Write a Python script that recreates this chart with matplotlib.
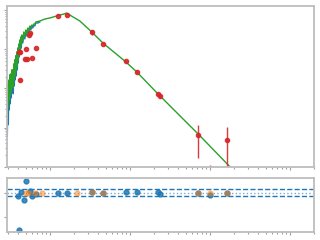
import matplotlib
matplotlib.use("Agg")
import matplotlib.pyplot as plt
import numpy as np

# Observed spectrum (blue)
spec_wl = [0.2943, 0.2985, 0.3028, 0.3072, 0.3117, 0.3162, 0.3208, 0.3255, 0.3302, 0.3350,
           0.3398, 0.3447, 0.3497, 0.3548, 0.3600, 0.3652, 0.3705, 0.3758, 0.3813, 0.3868,
           0.3924, 0.3981, 0.4039, 0.4097, 0.4157, 0.4217, 0.4278, 0.4340, 0.4403, 0.4467,
           0.4597, 0.4732, 0.4870, 0.5012, 0.5158, 0.5309, 0.5464, 0.5623, 0.5788, 0.5957,
           0.6131, 0.6310, 0.6494, 0.668, 0.708, 0.750]
spec_fl = [0.000587, 0.00513, 0.00119, 0.00921, 0.00285, 0.0166, 0.00406, 0.0186, 0.00577, 0.0265,
           0.00819, 0.0235, 0.00729, 0.0376, 0.0116, 0.0534, 0.0166, 0.0675, 0.0209, 0.0759,
           0.0297, 0.0960, 0.0448, 0.1213, 0.0637, 0.1534, 0.0805, 0.1939, 0.1079, 0.2181,
           0.1446, 0.2600, 0.1829, 0.2921, 0.2181, 0.3284, 0.2600, 0.3692, 0.3097, 0.3915,
           0.3483, 0.4151, 0.3915, 0.4669, 0.4669, 0.4951]

# Model spectrum (green)
model_wl = [0.2943, 0.2985, 0.3028, 0.3072, 0.3117, 0.3162, 0.3208, 0.3255, 0.3302, 0.3350,
            0.3398, 0.3447, 0.3497, 0.3548, 0.3600, 0.3652, 0.3705, 0.3758, 0.3813, 0.3868,
            0.3924, 0.3981, 0.4039, 0.4097, 0.4157, 0.4217, 0.4278, 0.4340, 0.4403, 0.4467,
            0.4597, 0.4732, 0.4870, 0.5012, 0.5158, 0.5309, 0.5464, 0.5623, 0.5788, 0.5957,
            0.6131, 0.6310, 0.6494, 0.668, 0.750, 0.866, 1.0, 1.155, 1.334, 1.496, 1.631,
            1.778, 2.054, 2.371, 3.35, 4.60, 8.91, 12.2, 22.4, 70.8, 177.8, 316.0]
model_fl = [0.00159, 0.0131, 0.00321, 0.0164, 0.00513, 0.0223, 0.00648, 0.0235, 0.00819, 0.0297,
            0.01164, 0.0297, 0.01036, 0.0423, 0.0166, 0.0534, 0.0209, 0.0675, 0.0297, 0.0854,
            0.0376, 0.1079, 0.0534, 0.1364, 0.0759, 0.1725, 0.0960, 0.2056, 0.1286, 0.2311,
            0.1626, 0.2755, 0.2056, 0.3097, 0.2451, 0.3483, 0.2921, 0.3915, 0.3483, 0.4151,
            0.3915, 0.4402, 0.4402, 0.4951, 0.525, 0.590, 0.626, 0.684, 0.746, 0.791, 0.839,
            0.746, 0.626, 0.525, 0.275, 0.1446, 0.0475, 0.0264, 0.0073, 0.00070, 0.000101, 0.000032]

# Photometry (red)
phot_wl = [0.418, 0.410, 0.4254, 0.487, 0.516, 0.497, 0.546, 0.562, 0.601, 0.674,
           1.248, 1.645, 3.38, 4.63, 8.97, 12.3, 22.6, 24.0, 71.4, 100.0, 164.5]
phot_fl = [0.0166, 0.0854, 0.0829, 0.0566, 0.0566, 0.1018, 0.231, 0.260, 0.0601, 0.1079,
           0.7036, 0.746, 0.2708, 0.1364, 0.0504, 0.0265, 0.00708, 0.00629, 0.00066, 0.00004, 0.00049]
phot_err = [0.0005, 0.002, 0.002, 0.001, 0.001, 0.002, 0.004, 0.004, 0.001, 0.002,
            0.01, 0.01, 0.04, 0.003, 0.001, 0.0005, 0.0002, 0.0002, 0.00049, 0.000074, 0.00056]

# Residuals
res_wl = [0.5058, 0.4305, 0.4018, 0.4775, 0.4131, 0.5575, 0.601, 0.668, 1.248, 1.645,
          3.38, 4.63, 8.97, 12.3, 22.6, 23.9, 71.4, 100.0, 164.5]
res_val = [0.526, 0.043, -0.128, -0.286, -1.58, 0.098, -0.103, -0.03, 0.0, 0.0,
           0.04, 0.0, 0.04, 0.04, 0.04, -0.03, 0.0, -0.07, 0.01]
res2_wl = [0.501, 0.535, 0.644, 0.788, 2.19, 3.38, 4.63, 71.4, 100.0, 164.5]
res2_val = [0.0, 0.0, 0.01, 0.0, 0.0, 0.04, 0.0, 0.0, 0.01, 0.0]
band_hi, band_lo = 0.17, -0.13

fig = plt.figure(figsize=(3.2, 2.4), dpi=100)
ax = fig.add_axes([0.022, 0.305, 0.959, 0.671])
ax2 = fig.add_axes([0.022, 0.035, 0.959, 0.225])

spine_c = '#bdbdbd'
for a in (ax, ax2):
    a.set_xscale('log')
    a.set_xlim(0.292, 2000)
    for s in a.spines.values():
        s.set_color(spine_c)
        s.set_linewidth(1.3)
    a.tick_params(which='both', colors='#a0a0a0', direction='out', length=2, width=0.8,
                  labelbottom=False, labelleft=False)
    a.tick_params(which='minor', length=1.5)

ax.set_yscale('log')
ax.set_ylim(1e-4, 1.285)
ax.plot(spec_wl, spec_fl, color='#1f77b4', lw=1.0)
ax.plot(model_wl, model_fl, color='#2ca02c', lw=1.0)
ax.errorbar(phot_wl, phot_fl, yerr=phot_err, fmt='o', color='#d62728', ms=3.0,
            elinewidth=1.0, capsize=0, alpha=0.9)

ax2.set_ylim(-1.64, 0.67)
ax2.set_yticks([0, -1])
ax2.axhline(band_hi, color='#1f77b4', ls='--', lw=1.0)
ax2.axhline(band_lo, color='#1f77b4', ls='--', lw=1.0)
ax2.axhline(0, color='#1f77b4', ls=':', lw=1.0, alpha=0.6)
ax2.plot(res_wl, res_val, 'o', color='#1f77b4', ms=3.5, alpha=0.85)
ax2.plot(res2_wl, res2_val, 'o', color='#ff7f0e', ms=3.5, alpha=0.45)

fig.savefig('out.png', dpi=100)
